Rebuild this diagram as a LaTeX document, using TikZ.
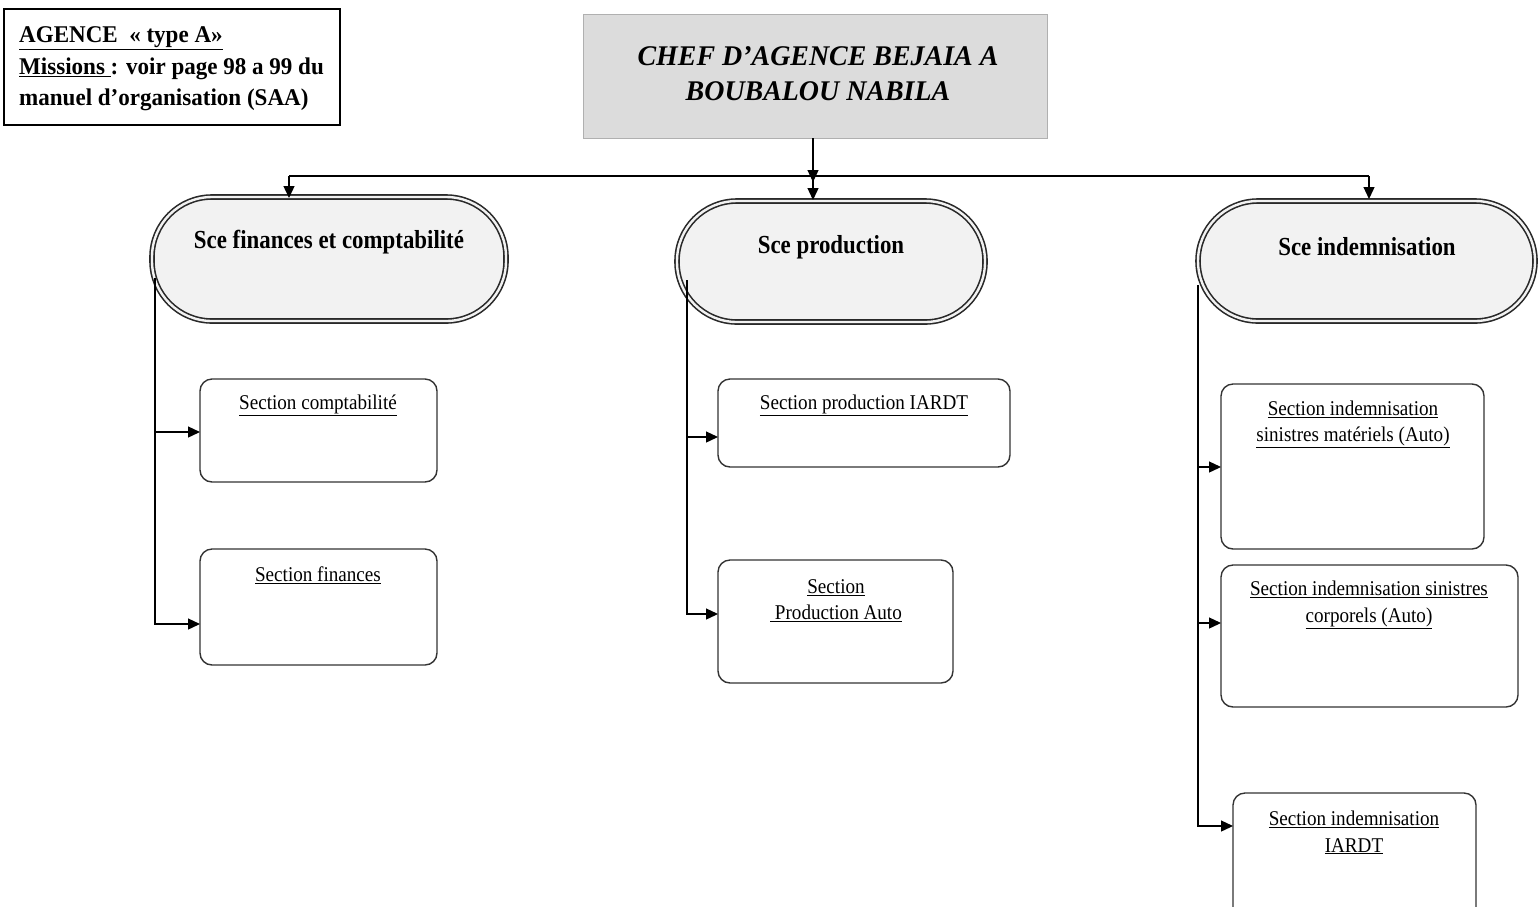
\documentclass[tikz,border=0pt]{standalone}
\usepackage{fontspec}
\setmainfont{Liberation Serif}
\newfontfamily\infofont{Liberation Serif}[FakeStretch=0.96]
\newfontfamily\cheffont{Liberation Serif}[FakeStretch=0.98]
\newfontfamily\pillfont{Liberation Serif}[FakeStretch=0.88]
\newfontfamily\secfont{Liberation Serif}[FakeStretch=0.91]
\usetikzlibrary{arrows.meta,calc}
\definecolor{chefgray}{HTML}{DCDCDC}
\definecolor{pillgray}{HTML}{F2F2F2}
\definecolor{edge}{HTML}{333333}
\begin{document}
\begin{tikzpicture}[x=1pt,y=-1pt,
  arr/.style={draw=black,line width=1.3pt,-{Triangle[length=12pt,width=11pt]}},
  wire/.style={draw=black,line width=1.3pt},
  infobox/.style={draw=black,line width=1.5pt,fill=white},
  chefbox/.style={fill=chefgray,draw=chefgray!80!black,line width=0.6pt},
  pill/.style={draw=edge!80!black,line width=1.6pt,double=pillgray,double distance=2.4pt,
    fill=pillgray,rounded corners=60pt},
  secbox/.style={draw=edge,line width=1.4pt,fill=white,rounded corners=12pt},
  pilltext/.style={font=\pillfont\fontsize{26}{30}\selectfont\bfseries,inner sep=0pt},
  sectext/.style={font=\secfont\fontsize{21}{26.5}\selectfont,align=center,inner sep=0pt},
]
\useasboundingbox (0,0) rectangle (1539,906);
\fill[white] (0,0) rectangle (1539,906);

% information box
\draw[infobox] (4,9) rectangle (340,125);
\node[anchor=west,inner sep=0pt,align=left,font=\infofont\fontsize{24}{31.5}\selectfont\bfseries] (info) at (19,69)
  {\underline{AGENCE\ \ « type A»}\\ \underline{Missions\ }: voir page 98 a 99 du\\ manuel d’organisation (SAA)};

% head of agency
\draw[chefbox] (583,14) rectangle (1047,138);
\node[inner sep=0pt,align=center,font=\cheffont\fontsize{28.5}{35}\selectfont\bfseries\itshape] (chef) at (818,74)
  {CHEF D’AGENCE BEJAIA A\\ BOUBALOU NABILA};
\coordinate (chefS) at (813,138);

% services
\draw[pill] (152,197) rectangle (506,321);
\node[pilltext] (finT) at (329,242) {Sce finances et comptabilité};
\coordinate (finN) at (289,198);
\draw[pill] (677,201) rectangle (985,322);
\node[pilltext] (prodT) at (831,247) {Sce production};
\coordinate (prodN) at (813,200);
\draw[pill] (1198,201) rectangle (1535,321);
\node[pilltext] (indT) at (1367,247) {Sce indemnisation};
\coordinate (indN) at (1369,199);

% sections
\draw[secbox] (200,379) rectangle (437,482);
\node[sectext] (sComp) at (318,405) {\underline{Section comptabilité}};
\draw[secbox] (200,549) rectangle (437,665);
\node[sectext] (sFin) at (318,575) {\underline{Section finances}};
\draw[secbox] (718,379) rectangle (1010,467);
\node[sectext] (sProdI) at (864,405) {\underline{Section production IARDT}};
\draw[secbox] (718,560) rectangle (953,683);
\node[sectext] (sProdA) at (836,600.5) {\underline{Section}\\ \underline{\ Production Auto}};
\draw[secbox] (1221,384) rectangle (1484,549);
\node[sectext] (sMat) at (1353,424.5) {\underline{Section indemnisation}\\ \underline{sinistres matériels (Auto)}};
\draw[secbox] (1221,565) rectangle (1518,707);
\node[sectext] (sCorp) at (1369,605) {\underline{Section indemnisation sinistres}\\ \underline{corporels (Auto)}};
\draw[secbox] (1233,793) rectangle (1476,930);
\node[sectext] (sIard) at (1354,832.5) {\underline{Section indemnisation}\\ \underline{IARDT}};

% distribution bus
\coordinate (busL) at (289,176);
\coordinate (busM) at (813,176);
\coordinate (busR) at (1369,176);
\draw[arr] (chefS) -- (813,182);
\draw[wire] (busL) -- (busR);
\draw[arr] (busL) -- (finN);
\draw[arr] (busM) -- (prodN);
\draw[arr] (busR) -- (indN);

% finance branch
\coordinate (finS) at (155,278);
\coordinate (f1) at (155,432);
\coordinate (f1e) at (200,432);
\coordinate (f2e) at (200,624);
\draw[arr] (finS) |- (f2e);
\draw[arr] (f1) -- (f1e);

% production branch
\coordinate (prodS) at (687,280);
\coordinate (p1) at (687,437);
\coordinate (p1e) at (718,437);
\coordinate (p2e) at (718,614);
\draw[arr] (prodS) |- (p2e);
\draw[arr] (p1) -- (p1e);

% claims branch
\coordinate (indS) at (1198,285);
\coordinate (i1) at (1198,467);
\coordinate (i1e) at (1221,467);
\coordinate (i2) at (1198,623);
\coordinate (i2e) at (1221,623);
\coordinate (i3e) at (1233,826);
\draw[arr] (indS) |- (i3e);
\draw[arr] (i1) -- (i1e);
\draw[arr] (i2) -- (i2e);
\end{tikzpicture}
\end{document}
